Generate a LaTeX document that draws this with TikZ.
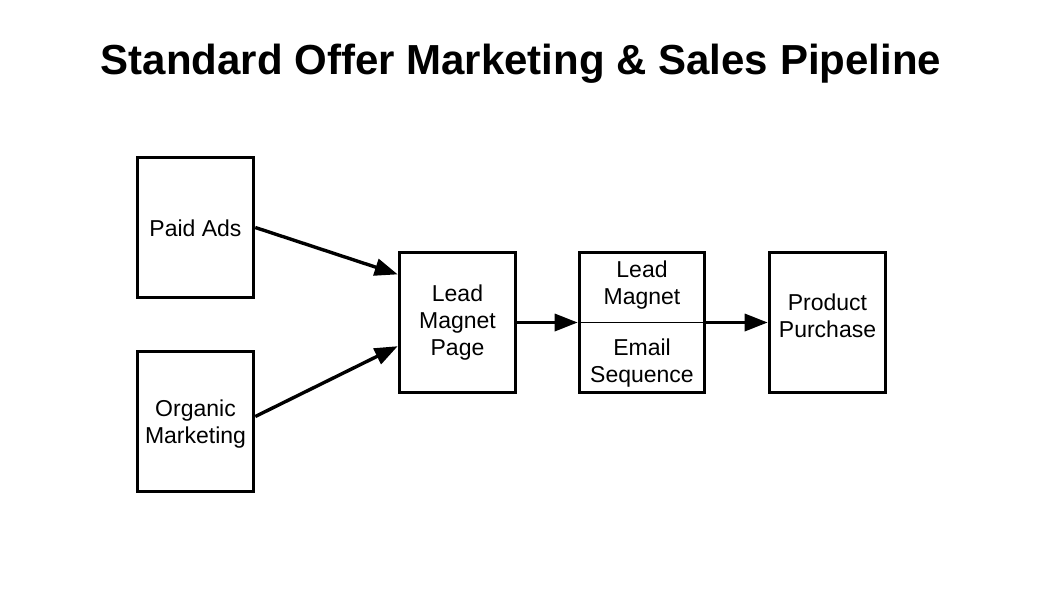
\documentclass[tikz,border=0pt]{standalone}
\usepackage{fontspec}
\setmainfont{Liberation Sans}
\usetikzlibrary{arrows.meta,calc}
\begin{document}
\begin{tikzpicture}[x=1pt,y=-1pt,
  box/.style={draw=black,line width=3.6pt,minimum width=116pt,minimum height=140pt,inner sep=0pt,align=center,font=\fontsize{23}{27}\selectfont},
  lbl/.style={align=center,inner sep=0pt,font=\fontsize{23}{27}\selectfont},
  conn/.style={line width=3.4pt,-{Triangle[length=23pt,width=17pt]}}]
\useasboundingbox (0,0) rectangle (1047,589);
\fill[white] (0,0) rectangle (1047,589);
\node[anchor=base,font=\bfseries\fontsize{42}{48}\selectfont] (title) at (521,74) {Standard Offer Marketing \& Sales Pipeline};
\node[box] (paid) at (195.5,227.5) {};
\node[box] (org) at (195.5,421.5) {};
\node[box] (lmp) at (457.5,322.5) {};
\node[box,minimum width=125pt] (split) at (642,322.5) {};
\node[box] (prod) at (827.5,322.5) {};
\node[lbl] (paidt) at (195.5,228) {Paid Ads};
\node[lbl] (orgt) at (195.5,424) {Organic\\Marketing};
\node[lbl] (lmpt) at (457.5,323) {Lead\\Magnet\\Page};
\node[lbl] (prodt) at (827.5,316) {Product\\Purchase};
\draw[line width=1.2pt] (split.west) -- (split.east);
\node[lbl] (lm) at (642,285.5) {Lead\\Magnet};
\node[lbl] (es) at (642,363) {Email\\Sequence};
\coordinate (lmpin1) at ($(lmp.north west)!0.165!(lmp.south west)$);
\coordinate (lmpin2) at ($(lmp.north west)!0.665!(lmp.south west)$);
\draw[conn] (paid.east) -- (lmpin1);
\draw[conn] ($(org.east)+(0,-5)$) -- (lmpin2);
\draw[conn] (lmp.east) -- (split.west);
\draw[conn] (split.east) -- (prod.west);
\end{tikzpicture}
\end{document}
